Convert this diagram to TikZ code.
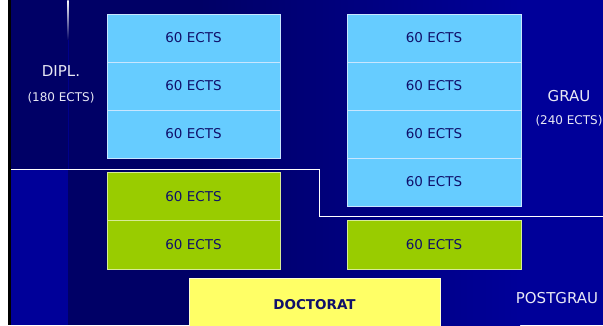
\documentclass[tikz,border=0pt]{standalone}
\usepackage{fontspec}
\setmainfont{DejaVu Sans}
\definecolor{bgblue}{HTML}{000099}
\definecolor{bgdark}{HTML}{000066}
\definecolor{boxblue}{HTML}{66CCFF}
\definecolor{boxgreen}{HTML}{99CC00}
\definecolor{boxyellow}{HTML}{FFFF66}
\definecolor{txtnavy}{HTML}{10106A}
\definecolor{lbl}{HTML}{E8E8F4}
\begin{document}
\begin{tikzpicture}[x=1pt,y=-1pt,
  ects/.style={inner sep=0pt, outer sep=0pt, line width=0.8pt,
    font=\fontsize{13.5}{15}\selectfont, text=txtnavy},
  bluebox/.style={ects, fill=boxblue, draw={rgb,255:red,200;green,230;blue,255},
    minimum width=173pt, minimum height=48pt},
  greenbox/.style={ects, fill=boxgreen, draw={rgb,255:red,215;green,235;blue,150},
    minimum width=173pt, minimum height=48.5pt},
  yellowbox/.style={ects, fill=boxyellow, draw={rgb,255:red,255;green,255;blue,210},
    minimum width=251pt, minimum height=54pt, font=\fontsize{13.5}{15}\selectfont\bfseries},
  biglabel/.style={text=lbl, font=\fontsize{15}{17}\selectfont, inner sep=0pt},
  smalllabel/.style={text=lbl, font=\fontsize{12}{14}\selectfont, inner sep=0pt},
  sepline/.style={draw=white, line width=1pt}]
\useasboundingbox (0,0) rectangle (603,325);
% background
\fill[white] (0,0) rectangle (8,325);
\fill[black] (8,0) rectangle (11,325);
\fill[bgblue] (11,0) rectangle (603,325);
\fill[bgdark] (11,0) rectangle (68,169);
\fill[bgdark] (68,0) rectangle (200,325);
\shade[left color=bgdark, right color=bgblue] (199.5,0) rectangle (520,325);
\shade[top color=white, bottom color=bgdark] (67.4,0) rectangle (68.6,40);
\fill[bgblue!70!bgdark] (67.6,40) rectangle (68.4,169);
% separator line
\draw[sepline] (11,169.5) -- (319,169.5) -- (319,216) -- (603,216);
% blue columns
\node[bluebox] (l1) at (193.5,38) {60 ECTS};
\node[bluebox] (l2) at (193.5,86) {60 ECTS};
\node[bluebox] (l3) at (193.5,134) {60 ECTS};
\node[bluebox, minimum width=174pt] (r1) at (434,38) {60 ECTS};
\node[bluebox, minimum width=174pt] (r2) at (434,86) {60 ECTS};
\node[bluebox, minimum width=174pt] (r3) at (434,134) {60 ECTS};
\node[bluebox, minimum width=174pt] (r4) at (434,182) {60 ECTS};
% green
\node[greenbox] (g1) at (193.5,196.5) {60 ECTS};
\node[greenbox] (g2) at (193.5,245) {60 ECTS};
\node[greenbox, minimum width=174pt] (g3) at (434,245) {60 ECTS};
% doctorat
\node[yellowbox] (doc) at (314.5,305) {DOCTORAT};
% labels
\node[biglabel] (dipl) at (61,71) {DIPL.};
\node[smalllabel] (dipls) at (61,98) {(180 ECTS)};
\node[biglabel] (grau) at (569,96) {GRAU};
\node[smalllabel] (graus) at (569,121) {(240 ECTS)};
\node[biglabel] (post) at (557,298) {POSTGRAU};
\end{tikzpicture}
\end{document}
